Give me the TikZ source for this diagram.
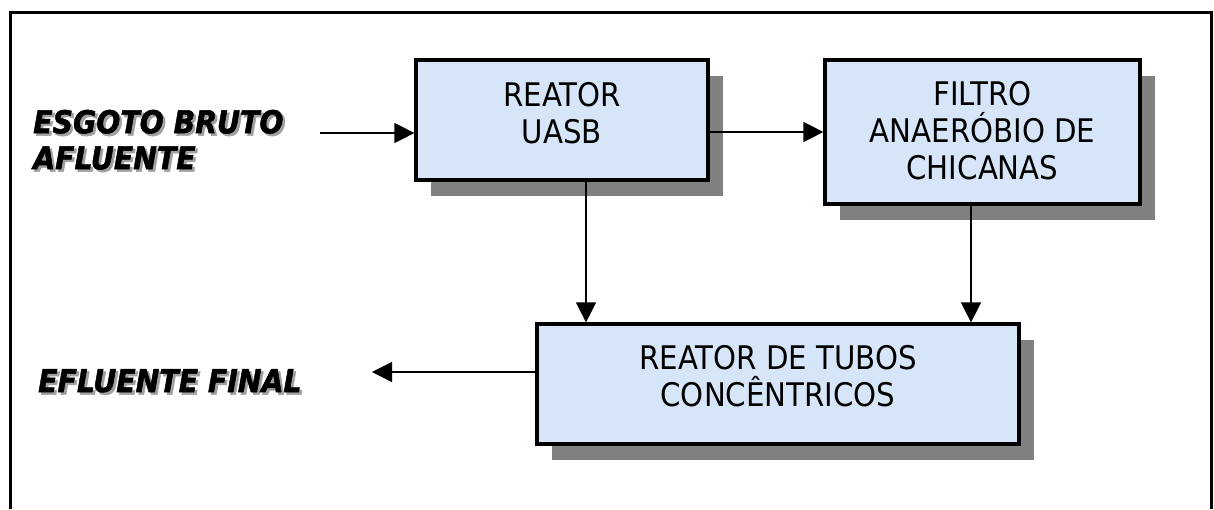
\documentclass[tikz,border=0pt]{standalone}
\usepackage{fontspec}
\usetikzlibrary{arrows.meta,shadows}
\newfontfamily\boxfont{DejaVu Sans Condensed}
\newfontfamily\labfont{DejaVu Sans Condensed}[BoldItalicFeatures={FakeBold=1.6}]
\definecolor{boxblue}{HTML}{D6E6F8}
\definecolor{shadowgray}{HTML}{808080}
\definecolor{textshadow}{HTML}{A0A0A0}
\newcommand\shtxt[1]{\makebox[0pt][l]{\hspace{2.5pt}\raisebox{-2.5pt}{\textcolor{textshadow}{#1}}}#1}
\tikzset{
  procbox/.style={draw=black, line width=3.2pt, fill=boxblue, inner sep=0pt,
    drop shadow={shadow xshift=15pt, shadow yshift=-16pt, opacity=1, fill=shadowgray}},
  boxtext/.style={inner sep=0pt, align=center, font=\boxfont\fontsize{32.5}{37}\selectfont},
  labtext/.style={inner sep=0pt, align=left, font=\labfont\bfseries\itshape\fontsize{31.5}{36}\selectfont},
  arr/.style={line width=1.3pt, -{Triangle[length=20pt,width=20pt]}},
  frame/.style={line width=3pt}
}
\begin{document}
\begin{tikzpicture}[x=1pt,y=-1pt]
\useasboundingbox (0,0) rectangle (1214,509);
% outer frame
\draw[frame] (10.5,509) -- (10.5,12.5) -- (1211,12.5) -- (1211,509);

% boxes
\node[procbox, minimum width=292pt, minimum height=120pt] (uasb) at (562,120) {};
\node[procbox, minimum width=315pt, minimum height=144pt] (filtro) at (982.5,132) {};
\node[procbox, minimum width=482pt, minimum height=120pt] (tubos) at (778,384) {};

% box texts
\node[boxtext] (uasbt) at (562,113.5) {REATOR\\UASB};
\node[boxtext] (filtrot) at (982.5,131) {FILTRO\\ANAERÓBIO DE\\CHICANAS};
\node[boxtext] (tubost) at (778,376) {REATOR DE TUBOS\\CONCÊNTRICOS};

% side labels (with text shadow)
\node[labtext, anchor=west] (esgoto) at (33,141) {\shtxt{ESGOTO BRUTO}\\\shtxt{AFLUENTE}};
\node[labtext, anchor=base west] (efluente) at (38,392) {\shtxt{EFLUENTE FINAL}};

% connectors
\coordinate (inStart) at (320,133);
\coordinate (outEnd) at (372,372);
\draw[arr] (inStart) -- (inStart -| uasb.west);
\draw[arr] (uasb.east |- filtro.west) -- (filtro.west);
\path ([xshift=24pt]uasb.south) coordinate (u1);
\draw[arr] (u1) -- (u1 |- tubos.north);
\path ([xshift=-11.5pt]filtro.south) coordinate (f1);
\draw[arr] (f1) -- (f1 |- tubos.north);
\draw[arr] (tubos.west |- outEnd) -- (outEnd);
\end{tikzpicture}
\end{document}
